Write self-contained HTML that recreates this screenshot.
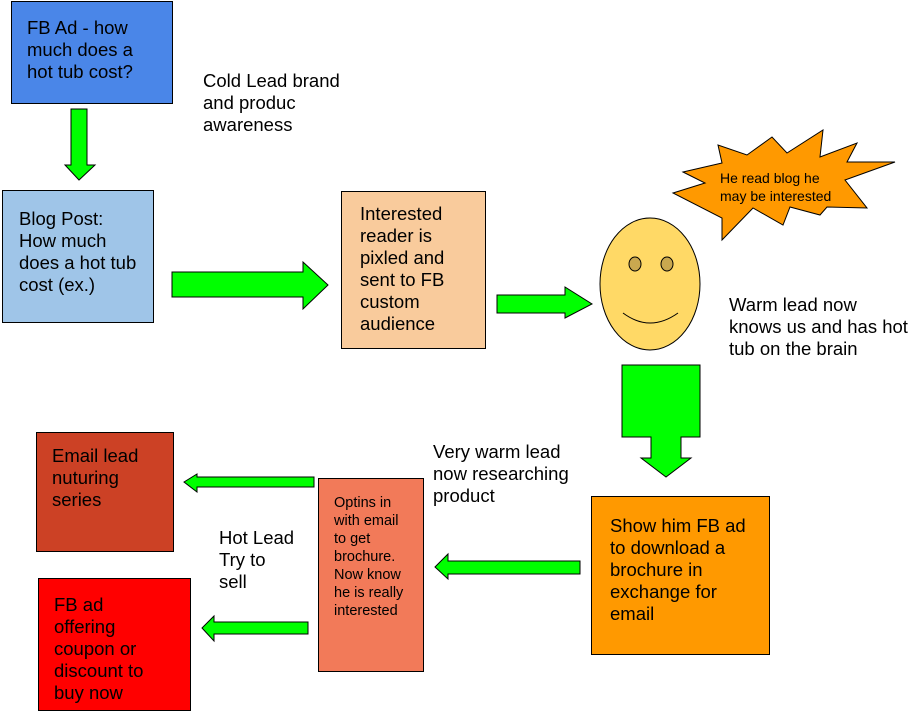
<!DOCTYPE html>
<html><head><meta charset="utf-8"><style>body{margin:0;background:#fff}svg{display:block}text{font-family:"Liberation Sans",Arial,sans-serif;font-size:18.5px;fill:#000}</style></head>
<body>
<svg width="910" height="712" viewBox="0 0 910 712" xmlns="http://www.w3.org/2000/svg">
<g stroke="#000" stroke-width="1">
<rect x="11.5" y="1.5" width="161" height="102" fill="#4a86e8"/>
<rect x="2.5" y="190.5" width="151" height="132" fill="#9fc5e8"/>
<rect x="341.5" y="191.5" width="144" height="157" fill="#f9cb9c"/>
<rect x="591.5" y="496.5" width="178" height="158" fill="#ff9900"/>
<rect x="318.5" y="478.5" width="105" height="193" fill="#f27a59"/>
<rect x="36.5" y="432.5" width="137" height="119" fill="#cc4125"/>
<rect x="38.5" y="578.5" width="152" height="132" fill="#ff0000"/>
<g fill="#00ff00">
<polygon points="71,109 87,109 87,165 95,165 79,180 65,165 71,165"/>
<polygon points="172,272 303,272 303,262 328,285 303,309 303,297 172,297"/>
<polygon points="497,295 565,295 565,287 592,304 565,318 565,313 497,313"/>
<polygon points="622,365 700,365 700,437 681,437 681,458 691,458 666,477 641,458 651,458 651,437 622,437"/>
<polygon points="580,561 580,574 448,574 448,579 435,567 448,554 448,561"/>
<polygon points="314,477 314,487 197,487 197,492 184,482 197,474 197,477"/>
<polygon points="308,622 308,634 214,634 214,641 202,628 214,616 214,622"/>
</g>
<polygon fill="#ff9900" points="683,172 722,163 718,145 747,155 772,137 787,153 823,130 820,157 857,143 847,162 895,162 845,180 867,208 827,207 820,215 790,207 783,225 753,208 722,240 722,218 673,193 705,183"/>
<ellipse cx="650" cy="284" rx="50" ry="66" fill="#ffd966"/>
<ellipse cx="635" cy="264" rx="6" ry="7" fill="#c9a84f"/>
<ellipse cx="667" cy="264" rx="6" ry="7" fill="#c9a84f"/>
<path d="M623 313 Q650 333 678 313" fill="none"/>
</g>
<text x="27" y="34">FB Ad - how</text><text x="27" y="56">much does a</text><text x="27" y="78">hot tub cost?</text>
<text x="203" y="87">Cold Lead brand</text><text x="203" y="109">and produc</text><text x="203" y="131">awareness</text>
<text x="19" y="225">Blog Post:</text><text x="19" y="247">How much</text><text x="19" y="269">does a hot tub</text><text x="19" y="291">cost (ex.)</text>
<text x="360" y="220">Interested</text><text x="360" y="242">reader is</text><text x="360" y="264">pixled and</text><text x="360" y="286">sent to FB</text><text x="360" y="308">custom</text><text x="360" y="330">audience</text>
<text x="720" y="183" style="font-size:14px">He read blog he</text><text x="720" y="201" style="font-size:14px">may be interested</text>
<text x="729" y="311">Warm lead now</text><text x="729" y="333">knows us and has hot</text><text x="729" y="355">tub on the brain</text>
<text x="433" y="458">Very warm lead</text><text x="433" y="480">now researching</text><text x="433" y="502">product</text>
<text x="610" y="532">Show him FB ad</text><text x="610" y="554">to download a</text><text x="610" y="576">brochure in</text><text x="610" y="598">exchange for</text><text x="610" y="620">email</text>
<text x="334" y="507" style="font-size:14.5px">Optins in</text><text x="334" y="525" style="font-size:14.5px">with email</text><text x="334" y="543" style="font-size:14.5px">to get</text><text x="334" y="561" style="font-size:14.5px">brochure.</text><text x="334" y="579" style="font-size:14.5px">Now know</text><text x="334" y="597" style="font-size:14.5px">he is really</text><text x="334" y="615" style="font-size:14.5px">interested</text>
<text x="52" y="462">Email lead</text><text x="52" y="484">nuturing</text><text x="52" y="506">series</text>
<text x="219" y="544">Hot Lead</text><text x="219" y="566">Try to</text><text x="219" y="588">sell</text>
<text x="54" y="611">FB ad</text><text x="54" y="633">offering</text><text x="54" y="655">coupon or</text><text x="54" y="677">discount to</text><text x="54" y="699">buy now</text>
</svg>
</body></html>
